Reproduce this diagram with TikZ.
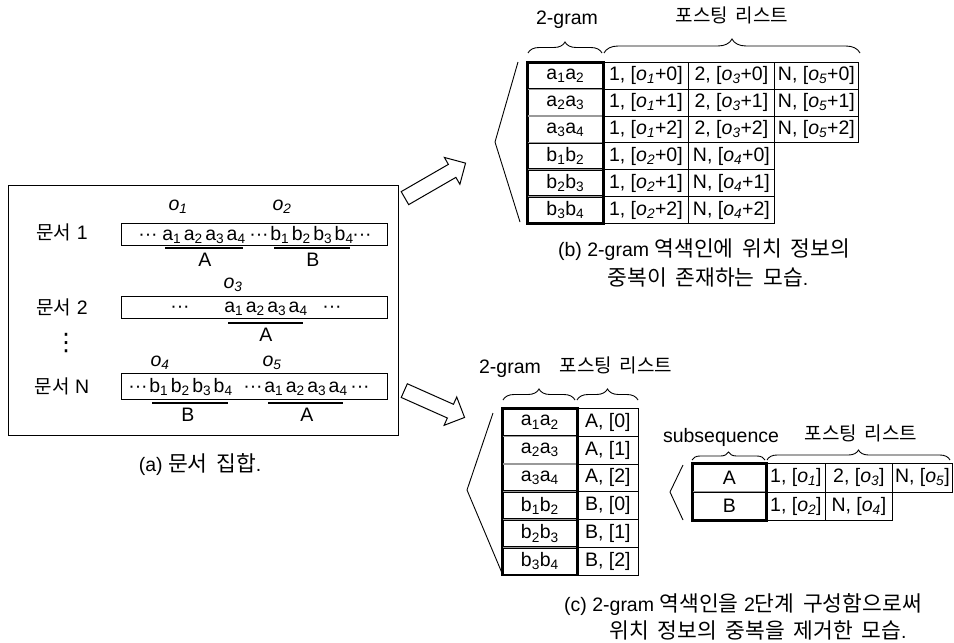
\documentclass[tikz,border=0pt]{standalone}
\usepackage{fontspec}
\setmainfont{Liberation Sans}
\newfontfamily\kr{Noto Sans CJK KR}
\newfontfamily\krc[WordSpace=1.8]{Noto Sans CJK KR}
\newfontfamily\dv{DejaVu Sans}
\usetikzlibrary{decorations.pathreplacing,shapes.arrows}
\newcommand\K[1]{{\kr\fontsize{19}{22}\selectfont #1}}
\newcommand\KC[1]{{\krc\fontsize{21.5}{24}\selectfont #1}}
\newcommand\ov[1]{\textit{o\textsubscript{#1}}}
\newcommand\bg[4]{#1\textsubscript{#2}#3\textsubscript{#4}}
\newcommand\pe[3]{#1, [\ov{#2}+#3]}
\newcommand\po[2]{#1, [\ov{#2}]}
\newcommand\sq[1]{#1\textsubscript{1}\hspace{2.5pt}#1\textsubscript{2}\hspace{2.5pt}#1\textsubscript{3}\hspace{2.5pt}#1\textsubscript{4}}
\begin{document}
\begin{tikzpicture}[x=1pt,y=-1pt,font=\fontsize{19.5}{23}\selectfont,
  frame/.style={draw,line width=1pt,inner sep=0,minimum width=390pt,minimum height=250pt},
  docbox/.style={draw,line width=1pt,minimum width=266pt,inner sep=0},
  seq/.style={inner sep=0,anchor=base},
  uline/.style={line width=1.3pt},
  gcell/.style={draw,line width=0.7pt,double=black!40,double distance=1.2pt,inner sep=0,anchor=north west,minimum width=#1},
  pcell/.style={draw,line width=0.8pt,inner sep=0,anchor=north west,minimum width=#1},
  brc/.style={decorate,decoration={brace,amplitude=#1},line width=0.9pt},
  wedge/.style={line width=0.9pt},
  heavy/.style={line width=3pt},
  captxt/.style={inner sep=0},
  barrow/.style={single arrow,draw,line width=1pt,single arrow head extend=8pt,
    minimum height=#1,text height=7pt,text depth=7pt,text width=0pt,inner sep=0}]
\useasboundingbox (0,0) rectangle (954,643);

% ---------- (a) document collection ----------
\node[frame] (panel) at (203,310) {};
\node (l1) at (62,232) {\K{문서} 1};
\node (l2) at (62,307) {\K{문서} 2};
\node (lv) at (66,343) {\dv\fontsize{24}{24}\selectfont ⋮};
\node (lN) at (62,386) {\K{문서} N};

\node[docbox,minimum height=22pt] (d1) at (254,234) {};
\node[seq] (d1x) at (148,240) {···};
\node[seq] (d1a) at (204,240) {\sq{a}};
\node[seq] (d1y) at (259,240) {···};
\node[seq] (d1b) at (312,240) {\sq{b}};
\node[seq] (d1z) at (362,240) {···};
\node (o1) at (178,207) {\ov{1}};
\node (o2) at (282,207) {\ov{2}};
\draw[uline] (165,248) -- (243,248);
\draw[uline] (274,248) -- (350,248);
\node (d1A) at (205,260) {A};
\node (d1B) at (313,260) {B};

\node (o3) at (233,285) {\ov{3}};
\node[docbox,minimum height=22pt] (d2) at (254,307) {};
\node[seq] (d2x) at (180,312) {···};
\node[seq] (d2a) at (266,312) {\sq{a}};
\node[seq] (d2y) at (332,312) {···};
\draw[uline] (228,323) -- (303,323);
\node (d2A) at (266,335) {A};

\node (o4) at (160,363) {\ov{4}};
\node (o5) at (272,363) {\ov{5}};
\node[docbox,minimum height=26pt] (dN) at (254,386) {};
\node[seq] (dNx) at (138,392) {···};
\node[seq] (dNb) at (191,392) {\sq{b}};
\node[seq] (dNy) at (253,392) {···};
\node[seq] (dNa) at (306,392) {\sq{a}};
\node[seq] (dNz) at (360,392) {···};
\draw[uline] (152,403) -- (228,403);
\draw[uline] (268,403) -- (343,403);
\node (dNB) at (188,415) {B};
\node (dNA) at (307,415) {A};

\node[captxt] (capa) at (200,465) {(a) \KC{문서 집합}.};

% ---------- arrows ----------
\node[barrow=70pt,rotate=30] (ar1) at (432,182.5) {};
\node[barrow=66pt,rotate=-24] (ar2) at (431,402.5) {};

% ---------- (b) 2-gram inverted index ----------
\node (hb1) at (567,20) {2-gram};
\node (hb2) at (732,15) {\K{포스팅 리스트}};
\draw[brc=11pt] (528,53) -- (602,53);
\draw[brc=14pt] (604,53) -- (860,53);
\draw[wedge] (518,62) -- (495,142) -- (520,222);
\begin{scope}[every node/.append style={minimum height=26.83pt}]
\node[gcell=76pt] (t1g) at (527,62.00) {\bg a1a2};
\node[gcell=76pt] (t2g) at (527,88.83) {\bg a2a3};
\node[gcell=76pt] (t3g) at (527,115.66) {\bg a3a4};
\node[gcell=76pt] (t4g) at (527,142.49) {\bg b1b2};
\node[gcell=76pt] (t5g) at (527,169.32) {\bg b2b3};
\node[gcell=76pt] (t6g) at (527,196.15) {\bg b3b4};
\node[pcell=85pt] (t1a) at (603,62.00) {\pe1{1}0};
\node[pcell=86pt] (t1b) at (688,62.00) {\pe2{3}0};
\node[pcell=84pt] (t1c) at (774,62.00) {\pe N{5}0};
\node[pcell=85pt] (t2a) at (603,88.83) {\pe1{1}1};
\node[pcell=86pt] (t2b) at (688,88.83) {\pe2{3}1};
\node[pcell=84pt] (t2c) at (774,88.83) {\pe N{5}1};
\node[pcell=85pt] (t3a) at (603,115.66) {\pe1{1}2};
\node[pcell=86pt] (t3b) at (688,115.66) {\pe2{3}2};
\node[pcell=84pt] (t3c) at (774,115.66) {\pe N{5}2};
\node[pcell=85pt] (t4a) at (603,142.49) {\pe1{2}0};
\node[pcell=86pt] (t4b) at (688,142.49) {\pe N{4}0};
\node[pcell=85pt] (t5a) at (603,169.32) {\pe1{2}1};
\node[pcell=86pt] (t5b) at (688,169.32) {\pe N{4}1};
\node[pcell=85pt] (t6a) at (603,196.15) {\pe1{2}2};
\node[pcell=86pt] (t6b) at (688,196.15) {\pe N{4}2};
\end{scope}
\draw[line width=1.2pt] (t1g.north west) rectangle (t6g.south east);
\draw[heavy] (t1g.north east) -- (t6g.south east);
\node[captxt] (capb1) at (704,250) {(b) 2-gram \KC{역색인에 위치 정보의}};
\node[captxt] (capb2) at (708,277) {\KC{중복이 존재하는 모습}.};

% ---------- (c) two-level index ----------
\node (hc1) at (510,369) {2-gram};
\node (hc2) at (616,365) {\K{포스팅 리스트}};
\draw[brc=11pt] (503,400) -- (575,400);
\draw[brc=11pt] (577,400) -- (638,400);
\draw[wedge] (493,413) -- (467,490) -- (502,573);
\begin{scope}[every node/.append style={minimum height=27.8pt}]
\node[gcell=75pt] (c1g) at (502,408.0) {\bg a1a2};
\node[gcell=75pt] (c2g) at (502,435.8) {\bg a2a3};
\node[gcell=75pt] (c3g) at (502,463.6) {\bg a3a4};
\node[gcell=75pt] (c4g) at (502,491.4) {\bg b1b2};
\node[gcell=75pt] (c5g) at (502,519.2) {\bg b2b3};
\node[gcell=75pt] (c6g) at (502,547.0) {\bg b3b4};
\node[pcell=61pt] (c1p) at (577,408.0) {A, [0]};
\node[pcell=61pt] (c2p) at (577,435.8) {A, [1]};
\node[pcell=61pt] (c3p) at (577,463.6) {A, [2]};
\node[pcell=61pt] (c4p) at (577,491.4) {B, [0]};
\node[pcell=61pt] (c5p) at (577,519.2) {B, [1]};
\node[pcell=61pt] (c6p) at (577,547.0) {B, [2]};
\end{scope}
\draw[line width=1.2pt] (c1g.north west) rectangle (c6g.south east);
\draw[heavy] (c1g.north east) -- (c6g.south east);

\node (hs1) at (721,437) {subsequence};
\node (hs2) at (861,433) {\K{포스팅 리스트}};
\draw[brc=8pt] (692,460) -- (765,460);
\draw[brc=10pt] (767,460) -- (950,460);
\draw[wedge] (683,465) -- (670,492) -- (683,520);
\begin{scope}[every node/.append style={minimum height=28.5pt}]
\node[gcell=74pt] (sA) at (692,463.0) {A};
\node[gcell=74pt] (sB) at (692,491.5) {B};
\node[pcell=59pt] (sA1) at (766,463.0) {\po1{1}};
\node[pcell=67pt] (sA2) at (825,463.0) {\po2{3}};
\node[pcell=60pt] (sA3) at (892,463.0) {\po N{5}};
\node[pcell=59pt] (sB1) at (766,491.5) {\po1{2}};
\node[pcell=67pt] (sB2) at (825,491.5) {\po N{4}};
\end{scope}
\draw[line width=1.2pt] (sA.north west) rectangle (sB.south east);
\draw[heavy] (sA.north east) -- (sB.south east);

\node[captxt] (capc1) at (743,605) {(c) 2-gram \KC{역색인을} 2\KC{단계 구성함으로써}};
\node[captxt] (capc2) at (758,630) {\KC{위치 정보의 중복을 제거한 모습}.};
\end{tikzpicture}
\end{document}
